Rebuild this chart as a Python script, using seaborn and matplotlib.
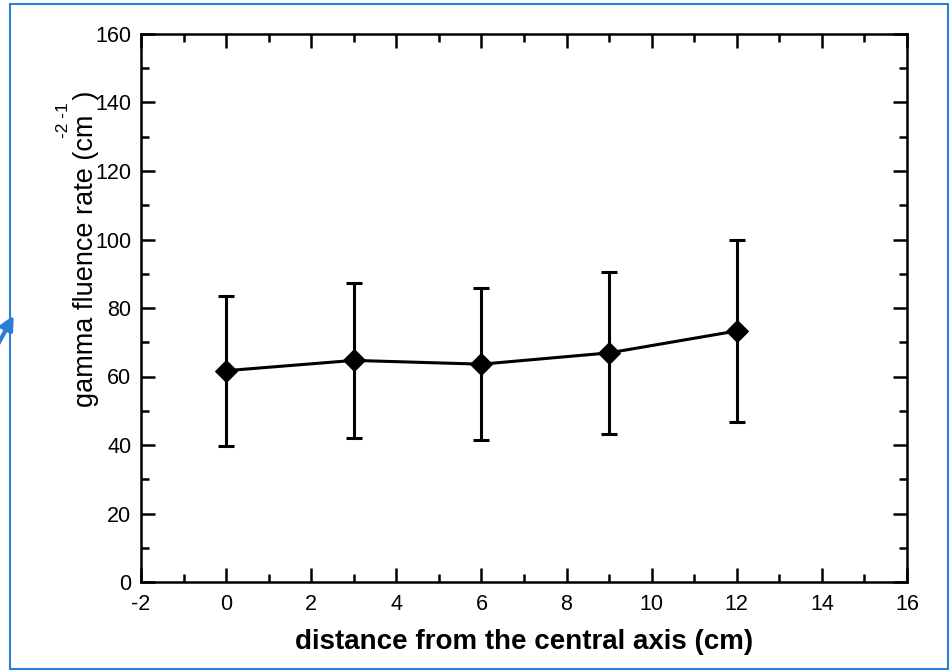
import matplotlib
matplotlib.use("Agg")
import matplotlib.pyplot as plt
import seaborn as sns
import pandas as pd
import numpy as np
from matplotlib.ticker import MultipleLocator
from matplotlib.patches import Rectangle, FancyArrowPatch

# data
distance = [0, 3, 6, 9, 12]
fluence = [61.7, 64.7, 63.6, 66.9, 73.3]
err_low = [39.8, 42.1, 41.5, 43.3, 46.6]
err_high = [83.5, 87.3, 85.8, 90.6, 99.8]

xticks = [-2, 0, 2, 4, 6, 8, 10, 12, 14, 16]
yticks = [0, 20, 40, 60, 80, 100, 120, 140, 160]

sns.set_theme(style="white")
plt.rcParams['font.family'] = ['Liberation Sans', 'DejaVu Sans']
plt.rcParams['text.color'] = 'black'
plt.rcParams['axes.labelcolor'] = 'black'

df = pd.DataFrame({"distance": distance, "fluence": fluence})

fig = plt.figure(figsize=(9.5, 6.72), dpi=100)
W, H = 950, 672
ax = fig.add_axes([141 / W, 1 - 582 / H, (907 - 141) / W, (582 - 34) / H])

yerr = np.array([np.array(fluence) - np.array(err_low),
                 np.array(err_high) - np.array(fluence)])
ax.errorbar(distance, fluence, yerr=yerr, fmt='none', ecolor='black',
            elinewidth=2.2, capsize=5.5, capthick=2.2, zorder=2)
sns.lineplot(data=df, x="distance", y="fluence", ax=ax, color='black',
             linewidth=2.2, marker='D', markersize=11, markeredgecolor='black',
             markerfacecolor='black', zorder=3)

ax.set_xlim(-2, 16)
ax.set_ylim(0, 160)
ax.set_xticks(xticks)
ax.set_yticks(yticks)
ax.set_xticklabels([str(v) for v in xticks])
ax.set_yticklabels([str(v) for v in yticks])
ax.xaxis.set_minor_locator(MultipleLocator(1))
ax.yaxis.set_minor_locator(MultipleLocator(10))
ax.tick_params(which='both', direction='in', top=True, right=True,
               bottom=True, left=True, colors='black', width=1.8)
ax.tick_params(which='major', length=10, labelsize=15.5)
ax.tick_params(axis='x', which='major', pad=9)
ax.tick_params(axis='y', which='major', pad=7)
ax.tick_params(which='minor', length=6)
for s in ax.spines.values():
    s.set_color('black')
    s.set_linewidth(1.8)

ax.set_xlabel("distance from the central axis (cm)", fontsize=20,
              fontweight='bold', labelpad=10, color='black')
ax.set_ylabel("")
fig.text(86 / W, 1 - 249 / H, "gamma fluence rate (cm  )", rotation=90,
         fontsize=19.5, ha='center', va='center', color='black')
fig.text(64 / W, 1 - 120 / H, "-2 -1", rotation=90, fontsize=12.5,
         ha='center', va='center', color='black')

blue = '#2a7fd4'
fig.patches.append(Rectangle((10 / W, 1 - 669 / H), (948 - 10) / W, (669 - 4) / H,
                             transform=fig.transFigure, fill=False,
                             edgecolor=blue, linewidth=1.5))
fig.patches.append(FancyArrowPatch((-4 / W, 1 - 348 / H), (15 / W, 1 - 313 / H),
                                   transform=fig.transFigure, color=blue,
                                   arrowstyle='-|>', mutation_scale=20,
                                   linewidth=3))

fig.savefig("out.png", dpi=100)
